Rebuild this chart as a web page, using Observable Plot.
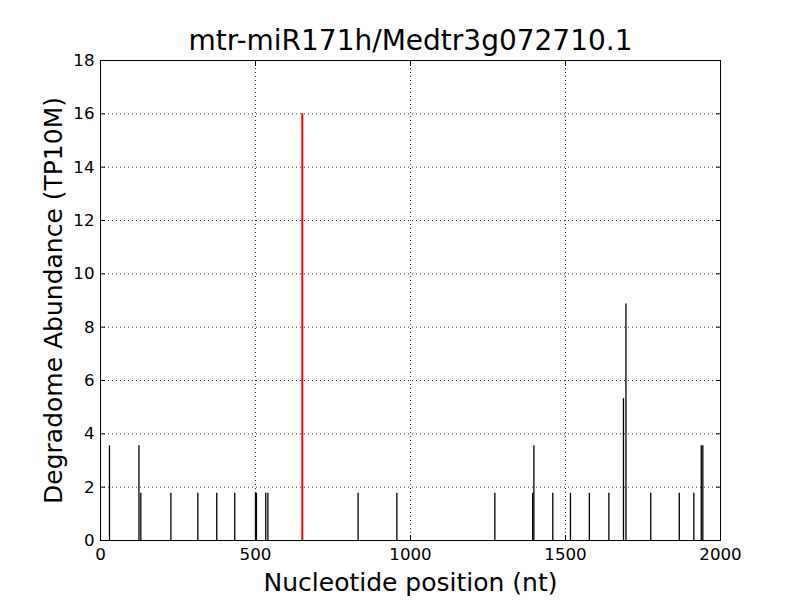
<!DOCTYPE html>
<html>
<head>
<meta charset="utf-8">
<script src="https://cdn.jsdelivr.net/npm/d3@7"></script>
<script src="https://cdn.jsdelivr.net/npm/@observablehq/plot@0.6"></script>
<style>
  html, body { margin: 0; padding: 0; background: #fff; }
  svg { display: block; }
</style>
</head>
<body>
<div id="chart"></div>
<script>
const title = "mtr-miR171h/Medtr3g072710.1";
const xLabel = "Nucleotide position (nt)";
const yLabel = "Degradome Abundance (TP10M)";

// black degradome peaks
const positions = [29, 124, 130, 227, 314, 375, 433, 500, 503, 533, 540, 831, 956, 1272,
  1394, 1398, 1459, 1516, 1577, 1640, 1687, 1695, 1775, 1867, 1914, 1938, 1943];
const abundances = [3.55, 3.55, 1.77, 1.77, 1.77, 1.77, 1.77, 1.77, 1.77, 1.77, 1.77, 1.77, 1.77, 1.77,
  1.77, 3.55, 1.77, 1.77, 1.77, 1.77, 5.32, 8.87, 1.77, 1.77, 1.77, 3.55, 3.55];

// highlighted target site
const targetPositions = [651];
const targetAbundances = [16.0];

const xTicks = [0, 500, 1000, 1500, 2000];
const yTicks = [0, 2, 4, 6, 8, 10, 12, 14, 16, 18];

const peaks = positions.map((p, i) => ({pos: p, val: abundances[i]}));
const target = targetPositions.map((p, i) => ({pos: p, val: targetAbundances[i]}));

const font = "DejaVu Sans";
const plain = d => String(d);
const none = () => "";

const chart = Plot.plot({
  width: 800,
  height: 600,
  marginLeft: 100,
  marginRight: 80,
  marginTop: 60,
  marginBottom: 60,
  style: {fontFamily: font, fontSize: "16.7px", color: "#000", background: "#fff"},
  x: {domain: [0, 2000]},
  y: {domain: [0, 18]},
  marks: [
    Plot.gridX(xTicks.slice(1, -1), {stroke: "#000", strokeOpacity: 1, strokeWidth: 0.8, strokeDasharray: "1,3"}),
    Plot.gridY(yTicks.slice(1, -1), {stroke: "#000", strokeOpacity: 1, strokeWidth: 0.8, strokeDasharray: "1,3"}),
    Plot.ruleX(peaks, {x: "pos", y1: 0, y2: "val", stroke: "#000", strokeWidth: 1.3}),
    Plot.ruleX(target, {x: "pos", y1: 0, y2: "val", stroke: "#ff0000", strokeWidth: 2}),
    Plot.axisX(xTicks, {anchor: "bottom", tickSize: -5, tickPadding: 13, tickFormat: plain, label: null, fontSize: 16.7}),
    Plot.axisX(xTicks, {anchor: "top", tickSize: -5, tickFormat: none, label: null}),
    Plot.axisY(yTicks, {anchor: "left", tickSize: -5, tickPadding: 11, tickFormat: plain, label: null, fontSize: 16.7}),
    Plot.axisY(yTicks, {anchor: "right", tickSize: -5, tickFormat: none, label: null}),
    Plot.frame({stroke: "#000", strokeWidth: 1}),
    Plot.text([title], {frameAnchor: "top", dy: -19, lineAnchor: "middle", textAnchor: "middle", fontSize: 28, fill: "#000"}),
    Plot.text([xLabel], {frameAnchor: "bottom", dy: 42, lineAnchor: "middle", textAnchor: "middle", fontSize: 25, fill: "#000"}),
    Plot.text([yLabel], {frameAnchor: "left", dx: -47, rotate: -90, lineAnchor: "middle", textAnchor: "middle", fontSize: 25, fill: "#000"})
  ]
});
document.getElementById("chart").appendChild(chart);
</script>
</body>
</html>
